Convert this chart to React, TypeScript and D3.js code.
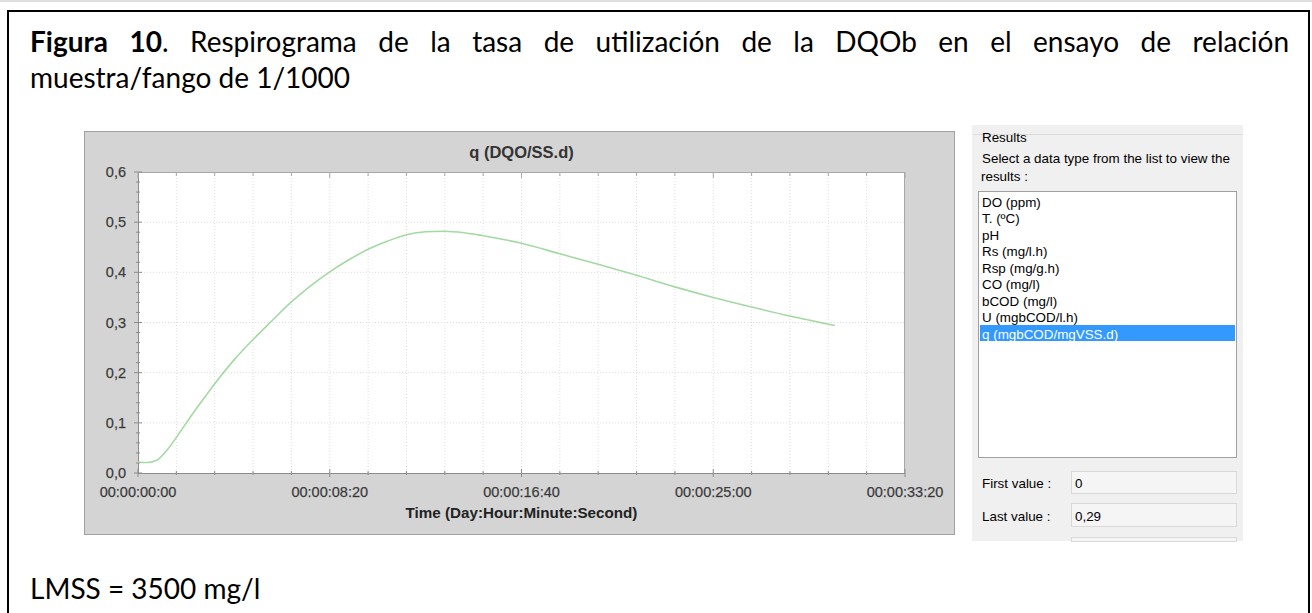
import React, { useMemo } from "react";
import * as d3 from "d3";

// ---------- data ----------
const timeSec = [0, 25, 50, 75, 100, 125, 150, 175, 200, 250, 300, 350, 400, 450, 500, 550, 600, 650, 700, 750, 800, 850, 900, 950, 1000, 1100, 1200, 1300, 1400, 1500, 1600, 1700, 1817];
const qValues = [0.022, 0.021, 0.026, 0.045, 0.071, 0.099, 0.126, 0.152, 0.178, 0.225, 0.266, 0.304, 0.341, 0.373, 0.401, 0.425, 0.446, 0.462, 0.475, 0.481, 0.482, 0.479, 0.473, 0.466, 0.458, 0.437, 0.416, 0.394, 0.371, 0.35, 0.331, 0.313, 0.294];
const yTicks = [0, 0.1, 0.2, 0.3, 0.4, 0.5, 0.6];
const xTicks = [0, 500, 1000, 1500, 2000];
const xTickLabels = ["00:00:00:00", "00:00:08:20", "00:00:16:40", "00:00:25:00", "00:00:33:20"];
const chartTitle = "q (DQO/SS.d)";
const xAxisTitle = "Time (Day:Hour:Minute:Second)";
const listItems = ["DO (ppm)", "T. (ºC)", "pH", "Rs (mg/l.h)", "Rsp (mg/g.h)", "CO (mg/l)", "bCOD (mg/l)", "U (mgbCOD/l.h)", "q (mgbCOD/mgVSS.d)"];
const selectedIndex = 8;
const firstValue = "0";
const lastValue = "0,29";
const captionWords: { text: string; bold?: boolean }[][] = [
  [{ text: "Figura", bold: true }],
  [{ text: "10", bold: true }, { text: "." }],
  [{ text: "Respirograma" }], [{ text: "de" }], [{ text: "la" }], [{ text: "tasa" }], [{ text: "de" }],
  [{ text: "utilización" }], [{ text: "de" }], [{ text: "la" }], [{ text: "DQOb" }], [{ text: "en" }],
  [{ text: "el" }], [{ text: "ensayo" }], [{ text: "de" }], [{ text: "relación" }],
];
const captionLine2 = "muestra/fango de 1/1000";
const footnote = "LMSS = 3500 mg/l";

const DOC_FONT = "Lato, 'Open Sans', sans-serif";
const UI_FONT = "'Liberation Sans', Arial, sans-serif";
const DOC_SIZE = 28;

function measure(text: string, font: string): number {
  if (typeof document === "undefined") return text.length * 10;
  const c = document.createElement("canvas");
  const ctx = c.getContext("2d")!;
  ctx.font = font;
  return ctx.measureText(text).width;
}

export default function App() {
  const W = 1312, H = 613;
  // plot geometry
  const pl = 138, pr = 905, pt = 172, pb = 473;
  const x = d3.scaleLinear().domain([0, 2000]).range([pl, pr]);
  const y = d3.scaleLinear().domain([0, 0.6]).range([pb, pt]);
  const line = d3.line<number>().x((_, i) => x(timeSec[i])).y((d) => y(d)).curve(d3.curveMonotoneX);
  const minorX = d3.range(0, 2001, 100);
  const minorY = d3.range(0, 31).map((i) => i * 0.02);

  const caption = useMemo(() => {
    const widths = captionWords.map((segs) =>
      segs.reduce((s, g) => s + measure(g.text, `${g.bold ? "bold " : ""}${DOC_SIZE}px Lato`), 0)
    );
    const total = widths.reduce((a, b) => a + b, 0);
    const x0 = 30, x1 = 1289;
    const gap = (x1 - x0 - total) / (captionWords.length - 1);
    const pos: number[] = [];
    let cx = x0;
    widths.forEach((w) => { pos.push(cx); cx += w + gap; });
    return pos;
  }, []);

  const labelStyle = { fontFamily: UI_FONT, fontSize: 14.5, fill: "#333", stroke: "#555", strokeWidth: 0.25 } as const;

  return (
    <svg width={W} height={H} style={{ position: "absolute", left: 0, top: 0, background: "#fff" }}>
      {/* page lines */}
      <line x1={0} x2={W} y1={1} y2={1} stroke="#bdbdbd" strokeWidth={1} />
      <path d={`M8,${H} V11 H1309 V${H}`} fill="none" stroke="#000" strokeWidth={2} />

      {/* caption */}
      <text y={52} fontFamily={DOC_FONT} fontSize={DOC_SIZE} fill="#000">
        {captionWords.map((segs, i) => (
          <tspan key={i} x={caption[i]}>
            {segs.map((g, j) => (
              <tspan key={j} fontWeight={g.bold ? "bold" : "normal"}>{g.text}</tspan>
            ))}
          </tspan>
        ))}
      </text>
      <text x={30} y={88} fontFamily={DOC_FONT} fontSize={DOC_SIZE} fill="#000">{captionLine2}</text>
      <text x={30} y={599} fontFamily={DOC_FONT} fontSize={DOC_SIZE} fill="#000">{footnote}</text>

      {/* chart panel */}
      <rect x={84.5} y={131.5} width={870} height={403} fill="#d4d4d4" stroke="#a0a0a0" strokeWidth={1} />
      <text x={(pl + pr) / 2} y={158} textAnchor="middle" fontFamily={UI_FONT} fontWeight="bold" fontSize={16.5} fill="#333">{chartTitle}</text>
      <rect x={pl} y={pt} width={pr - pl} height={pb - pt} fill="#fff" />
      {/* grid */}
      {minorX.filter((t) => t > 0 && t < 2000).map((t) => (
        <line key={"gx" + t} x1={x(t)} x2={x(t)} y1={pt} y2={pb} stroke="#dedede" strokeDasharray="1,2" />
      ))}
      {yTicks.filter((v) => v > 0 && v < 0.6).map((v) => (
        <line key={"gy" + v} x1={pl} x2={pr} y1={y(v)} y2={y(v)} stroke="#dedede" strokeDasharray="1,2" />
      ))}
      {/* plot border */}
      <line x1={pl} x2={pr} y1={pt + 0.5} y2={pt + 0.5} stroke="#a8a8a8" />
      <line x1={pr - 0.5} x2={pr - 0.5} y1={pt} y2={pb} stroke="#a8a8a8" />
      <line x1={pl + 0.5} x2={pl + 0.5} y1={pt} y2={pb} stroke="#8c8c8c" />
      <line x1={pl} x2={pr} y1={pb + 0.5} y2={pb + 0.5} stroke="#8c8c8c" />
      {/* y ticks */}
      {minorY.map((v, i) => {
        const major = i % 5 === 0;
        return <line key={"ty" + i} x1={pl - (major ? 4 : 2)} x2={pl + (major ? 4 : 2)} y1={y(v)} y2={y(v)} stroke="#8c8c8c" />;
      })}
      {/* x ticks bottom and top */}
      {minorX.map((t, i) => {
        const major = i % 5 === 0;
        return (
          <g key={"tx" + t}>
            <line x1={x(t)} x2={x(t)} y1={pb - (major ? 4 : 2)} y2={pb + (major ? 4 : 2)} stroke="#8c8c8c" />
            <line x1={x(t)} x2={x(t)} y1={pt} y2={pt + (major ? 6 : 4)} stroke="#a8a8a8" />
          </g>
        );
      })}
      {/* curve */}
      <path d={line(qValues) || ""} fill="none" stroke="#a3d9a3" strokeWidth={1.6} />
      {/* labels */}
      {yTicks.map((v) => (
        <text key={"ly" + v} x={126} y={y(v) + 5} textAnchor="end" {...labelStyle}>
          {d3.format(".1f")(v).replace(".", ",")}
        </text>
      ))}
      {xTicks.map((t, i) => (
        <text key={"lx" + t} x={x(t)} y={497} textAnchor="middle" {...labelStyle}>
          {xTickLabels[i]}
        </text>
      ))}
      <text x={(pl + pr) / 2} y={518} textAnchor="middle" fontFamily={UI_FONT} fontWeight="bold" fontSize={15.2} fill="#222">{xAxisTitle}</text>

      {/* results panel */}
      <rect x={972} y={125} width={271} height={416} fill="#f0f0f0" />
      <line x1={973} x2={1243} y1={134.5} y2={134.5} stroke="#dcdcdc" />
      <g fontFamily={UI_FONT} fontSize={13.4} fill="#000">
        <text x={982} y={142}>Results</text>
        <text x={982} y={163}>Select a data type from the list to view the</text>
        <text x={981} y={181}>results :</text>
        <rect x={978.5} y={191.5} width={258} height={266} fill="#fff" stroke="#a0a0a0" />
        <rect x={980} y={325} width={255} height={16} fill="#3399ff" />
        {listItems.map((s, i) => (
          <text key={s} x={982} y={206.5 + i * 16.5} fill={i === selectedIndex ? "#fff" : "#000"}>{s}</text>
        ))}
        <text x={982} y={488}>First value :</text>
        <rect x={1071.5} y={471.5} width={165} height={22} fill="#f5f5f5" stroke="#d9d9d9" />
        <text x={1075} y={488}>{firstValue}</text>
        <text x={982} y={521}>Last value :</text>
        <rect x={1071.5} y={503.5} width={165} height={23} fill="#f5f5f5" stroke="#d9d9d9" />
        <text x={1075} y={521}>{lastValue}</text>
        <rect x={1071.5} y={537.5} width={165} height={4} fill="#f5f5f5" stroke="#d9d9d9" />
      </g>
    </svg>
  );
}
